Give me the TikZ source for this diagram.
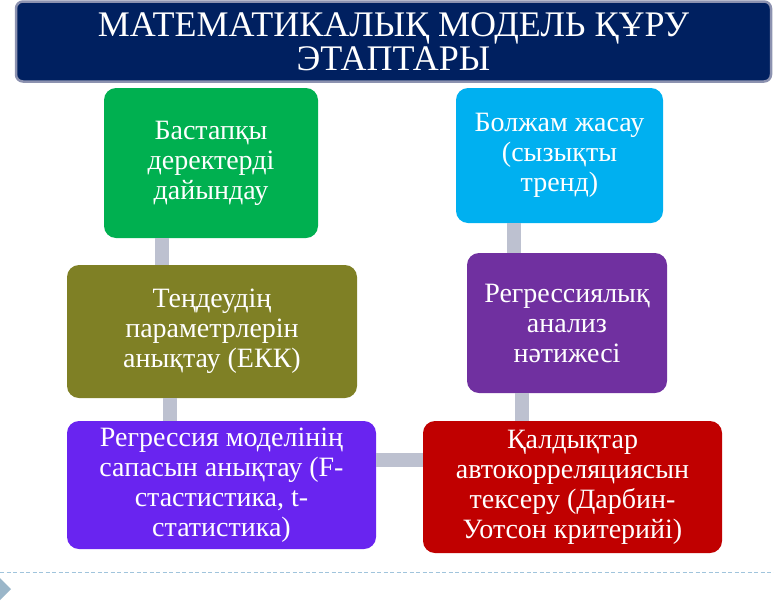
\documentclass[tikz,border=0pt]{standalone}
\usepackage{fontspec}
\setmainfont{Liberation Serif}
\usetikzlibrary{shapes,arrows}

\definecolor{navy}{RGB}{0,32,96}
\definecolor{frame}{RGB}{140,146,176}
\definecolor{leaf}{RGB}{0,176,80}
\definecolor{sky}{RGB}{0,176,240}
\definecolor{olive}{RGB}{127,128,37}
\definecolor{plum}{RGB}{112,48,160}
\definecolor{iris}{RGB}{105,36,240}
\definecolor{crimson}{RGB}{192,0,0}
\definecolor{linkgray}{RGB}{189,193,208}
\definecolor{dashblue}{RGB}{160,196,220}

\begin{document}
\begin{tikzpicture}[x=1pt,y=-1pt,
    stage/.style={rounded corners=12pt,inner sep=0pt,text=white,align=center,
      font=\fontsize{28}{30}\selectfont},
    link/.style={draw=linkgray,line width=14pt}]
          \useasboundingbox (0,0) rectangle (774,600);
          % title banner
          \node[fill=navy,draw=frame,line width=2.5pt,rounded corners=7pt,
            minimum width=755pt,minimum height=80pt,text=white,align=center,
            font=\fontsize{36}{34}\selectfont] (title) at (393.5,41.5)
            {МАТЕМАТИКАЛЫҚ МОДЕЛЬ ҚҰРУ\\ЭТАПТАРЫ};
          % connector columns
          \coordinate (k1) at (161.5,0);
          \coordinate (k2) at (169.5,0);
          \coordinate (k3) at (0,460);
          \coordinate (k4) at (521.5,0);
          \coordinate (k5) at (514,0);
          % stages
          \node[stage,fill=leaf,minimum width=214pt,minimum height=150pt] (prep) at (211,163) {Бастапқы\\деректерді\\дайындау};
          \node[stage,fill=olive,minimum width=290pt,minimum height=133pt] (param) at (212,331.5) {Теңдеудің\\параметрлерін\\анықтау (ЕКК)};
          \node[stage,fill=iris,minimum width=309pt,minimum height=128pt] (qual) at (221.5,485) {Регрессия моделінің\\сапасын анықтау (F-\\стастистика, t-\\статистика)};
          \node[stage,fill=crimson,minimum width=299pt,minimum height=132pt] (auto) at (572.5,487) {Қалдықтар\\автокорреляциясын\\тексеру (Дарбин-\\Уотсон критерийі)};
          \node[stage,fill=plum,minimum width=200pt,minimum height=140pt] (res) at (567,323) {Регрессиялық\\анализ\\нәтижесі};
          \node[stage,fill=sky,minimum width=207pt,minimum height=135pt] (fore) at (559.5,155.5) {Болжам жасау\\(сызықты\\тренд)};
          \draw[link] (prep.south -| k1) -- (param.north -| k1);
          \draw[link] (param.south -| k2) -- (qual.north -| k2);
          \draw[link] (qual.east |- k3) -- (auto.west |- k3);
          \draw[link] (auto.north -| k4) -- (res.south -| k4);
          \draw[link] (res.north -| k5) -- (fore.south -| k5);
          % footer
          \coordinate (f1) at (0,572);
          \coordinate (f2) at (774,572);
          \draw[dashblue,line width=1pt,dash pattern=on 4pt off 2.5pt] (f1) -- (f2);
          \fill[dashblue!80!gray] (0,578) -- (11,589) -- (0,600) -- cycle;
        \end{tikzpicture}
\end{document}
